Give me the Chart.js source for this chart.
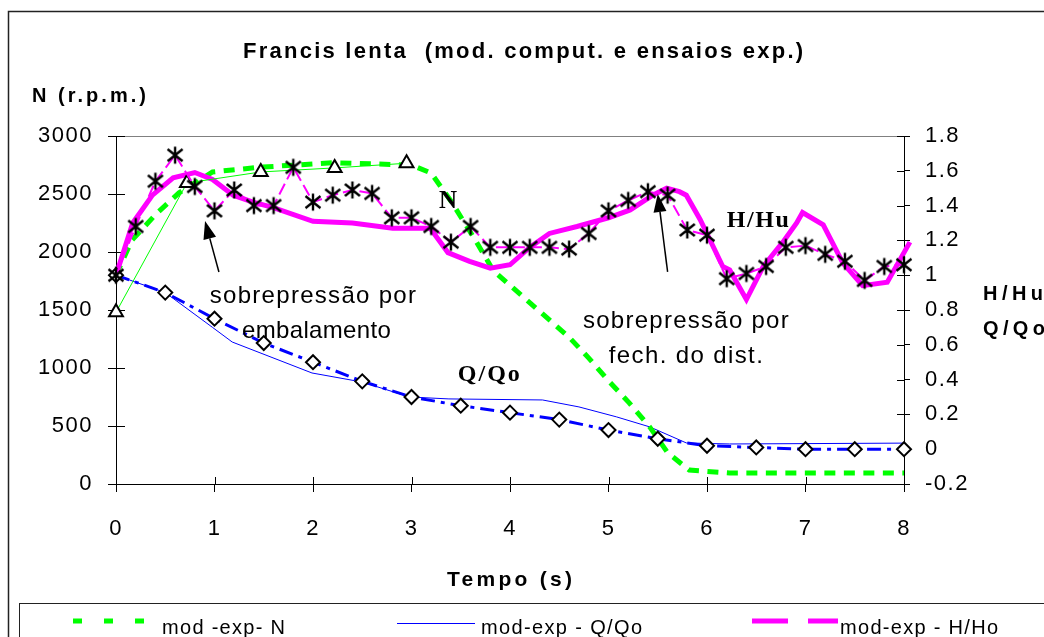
<!DOCTYPE html>
<html><head><meta charset="utf-8">
<script src="https://cdn.jsdelivr.net/npm/chart.js@4"></script>
<style>html,body{margin:0;padding:0;background:#fff;}canvas{display:block;}</style>
</head><body>
<canvas id="c" width="1044" height="637"></canvas>
<script>
// ---------- data ----------
const nModelTime = [0, 0.16, 0.41, 0.64, 0.98, 1.45, 2.2, 3.0, 3.2, 3.4, 3.65, 3.83, 4.6, 4.8, 5.01, 5.21, 5.42, 5.6, 5.82, 6.23, 8.0];
const nModelRpm  = [1800, 2100, 2330, 2510, 2690, 2730, 2770, 2750, 2680, 2440, 2100, 1840, 1265, 1085, 880, 700, 490, 270, 120, 95, 95];

const nExpTime = [0, 0.72, 1.47, 2.22, 2.95];
const nExpRpm  = [1480, 2595, 2690, 2725, 2765];

const qModelTime = [0, 0.5, 0.98, 1.18, 1.99, 2.5, 2.98, 3.38, 4.33, 4.7, 5.08, 5.42, 5.79, 6.23, 8.0];
const qModelVal  = [1.0, 0.90, 0.70, 0.616, 0.438, 0.386, 0.30, 0.289, 0.283, 0.243, 0.186, 0.128, 0.036, 0.03, 0.035];

const qExpTime = [0, 0.5, 1, 1.5, 2, 2.5, 3, 3.5, 4, 4.5, 5, 5.5, 6, 6.5, 7, 7.5, 8];
const qExpVal  = [1.0, 0.90, 0.75, 0.61, 0.50, 0.39, 0.30, 0.25, 0.21, 0.17, 0.11, 0.06, 0.02, 0.01, 0.0, 0.0, 0.0];

const hModelTime = [0, 0.17, 0.37, 0.58, 0.80, 0.98, 1.19, 1.39, 1.59, 2.0, 2.4, 2.81, 3.19, 3.37, 3.59, 3.8, 4.0, 4.2, 4.4, 4.68, 5.0, 5.22, 5.45, 5.59, 5.72, 5.79, 5.93, 6.16, 6.23, 6.4, 6.57, 6.77, 6.91, 6.97, 7.18, 7.38, 7.58, 7.83, 8.06];
const hModelVal  = [1.0, 1.30, 1.46, 1.56, 1.59, 1.55, 1.46, 1.42, 1.39, 1.31, 1.30, 1.27, 1.27, 1.13, 1.08, 1.04, 1.06, 1.16, 1.24, 1.28, 1.33, 1.375, 1.46, 1.50, 1.48, 1.46, 1.32, 1.05, 1.03, 0.86, 1.05, 1.19, 1.30, 1.36, 1.29, 1.07, 0.94, 0.96, 1.19];

const hExpTime = [0, 0.2, 0.4, 0.6, 0.8, 1.0, 1.2, 1.4, 1.6, 1.8, 2.0, 2.2, 2.4, 2.6, 2.8, 3.0, 3.2, 3.4, 3.6, 3.8, 4.0, 4.2, 4.4, 4.6, 4.8, 5.0, 5.2, 5.4, 5.6, 5.8, 6.0, 6.2, 6.4, 6.6, 6.8, 7.0, 7.2, 7.4, 7.6, 7.8, 8.0];
const hExpVal  = [1.00, 1.28, 1.54, 1.69, 1.51, 1.37, 1.49, 1.40, 1.40, 1.62, 1.42, 1.46, 1.49, 1.47, 1.33, 1.33, 1.28, 1.19, 1.28, 1.16, 1.16, 1.16, 1.16, 1.15, 1.24, 1.37, 1.43, 1.48, 1.46, 1.26, 1.23, 0.98, 1.01, 1.05, 1.16, 1.17, 1.12, 1.08, 0.97, 1.05, 1.06];

const timeTicks  = ['0', '1', '2', '3', '4', '5', '6', '7', '8'];
const rpmTicks   = ['0', '500', '1000', '1500', '2000', '2500', '3000'];
const ratioTicks = ['-0.2', '0', '0.2', '0.4', '0.6', '0.8', '1', '1.2', '1.4', '1.6', '1.8'];

const legendLabels = ['mod -exp- N', 'mod-exp - Q/Qo', 'mod-exp - H/Ho'];

// ---------- helpers ----------
const SANS = '"Liberation Sans", Arial, sans-serif';
const SERIF = '"Liberation Serif", "Times New Roman", serif';
const toXY = (xs, ys) => xs.map((x, i) => ({x: x, y: ys[i]}));

function makeStar() {
  const c = document.createElement('canvas');
  c.width = 20; c.height = 20;
  const g = c.getContext('2d');
  g.strokeStyle = '#000'; g.lineWidth = 2.4;
  g.beginPath();
  g.moveTo(10, 1.5); g.lineTo(10, 18.5);
  g.moveTo(2.5, 4); g.lineTo(17.5, 16);
  g.moveTo(17.5, 4); g.lineTo(2.5, 16);
  g.stroke();
  return c;
}
const starImg = makeStar();

function fitText(ctx, txt, font, x0, x1, yb) {
  ctx.save();
  ctx.font = font;
  ctx.letterSpacing = '0px';
  const w = ctx.measureText(txt).width;
  const n = Array.from(txt).length;
  const ls = n > 1 ? (x1 - x0 - w) / (n - 1) : 0;
  ctx.letterSpacing = ls.toFixed(2) + 'px';
  ctx.fillStyle = '#000';
  ctx.textAlign = 'left';
  ctx.textBaseline = 'alphabetic';
  ctx.fillText(txt, x0, yb);
  ctx.restore();
}

function arrow(ctx, x0, y0, x1, y1) {
  const a = Math.atan2(y1 - y0, x1 - x0), L = 18, W = 6.5;
  const bx = x1 - L * Math.cos(a), by = y1 - L * Math.sin(a);
  ctx.beginPath(); ctx.moveTo(x0, y0); ctx.lineTo(bx, by);
  ctx.lineWidth = 1.5; ctx.strokeStyle = '#000'; ctx.stroke();
  ctx.beginPath(); ctx.moveTo(x1, y1);
  ctx.lineTo(bx - W * Math.sin(a), by + W * Math.cos(a));
  ctx.lineTo(bx + W * Math.sin(a), by - W * Math.cos(a));
  ctx.closePath(); ctx.fillStyle = '#000'; ctx.fill();
}

// annotations in data units (x: seconds, n: rpm axis)
const notes = [
  {text: 'sobrepressão por', t0: 0.952, t1: 3.044, n: 1560, font: '24px ' + SANS},
  {text: 'embalamento',      t0: 1.279, t1: 2.79,  n: 1259, font: '24px ' + SANS},
  {text: 'sobrepressão por', t0: 4.74,  t1: 6.83,  n: 1345, font: '24px ' + SANS},
  {text: 'fech. do dist.',   t0: 5.003, t1: 6.567, n: 1043, font: '24px ' + SANS},
  {text: 'N',    t0: 3.28, t1: 3.46, n: 2379, font: 'bold 25px ' + SERIF},
  {text: 'H/Hu', t0: 6.20, t1: 6.83, n: 2216, font: 'bold 24px ' + SERIF},
  {text: 'Q/Qo', t0: 3.47, t1: 4.10, n: 890,  font: 'bold 24px ' + SERIF}
];
const arrows = [
  {t0: 1.045, n0: 1828, t1: 0.904, n1: 2267},
  {t0: 5.60,  n0: 1828, t1: 5.50,  n1: 2500}
];

const decor = {
  id: 'decor',
  beforeDraw(chart) {
    chart.ctx.letterSpacing = '1.5px';
  },
  beforeDatasetsDraw(chart) {
    const {ctx, chartArea: a, scales} = chart;
    ctx.save();
    ctx.letterSpacing = '0px';
    ctx.lineWidth = 1;
    ctx.strokeStyle = '#808080';
    ctx.beginPath(); ctx.moveTo(a.left, a.top + 0.5); ctx.lineTo(a.right, a.top + 0.5); ctx.stroke();
    ctx.strokeStyle = '#000';
    ctx.beginPath();
    scales.y.ticks.forEach((t, i) => {
      const p = Math.round(scales.y.getPixelForTick(i)) + 0.5;
      ctx.moveTo(a.left, p); ctx.lineTo(a.left + 9, p);
    });
    scales.y1.ticks.forEach((t, i) => {
      const p = Math.round(scales.y1.getPixelForTick(i)) + 0.5;
      ctx.moveTo(a.right, p); ctx.lineTo(a.right - 7, p);
    });
    scales.x.ticks.forEach((t, i) => {
      const p = Math.round(scales.x.getPixelForTick(i)) + 0.5;
      ctx.moveTo(p, a.bottom); ctx.lineTo(p, a.bottom - 7);
    });
    ctx.stroke();
    ctx.restore();
  },
  afterDatasetsDraw(chart) {
    const {ctx, scales} = chart;
    const X = scales.x, Y = scales.y;
    ctx.save();
    notes.forEach(o => fitText(ctx, o.text, o.font, X.getPixelForValue(o.t0), X.getPixelForValue(o.t1), Y.getPixelForValue(o.n)));
    arrows.forEach(o => arrow(ctx, X.getPixelForValue(o.t0), Y.getPixelForValue(o.n0), X.getPixelForValue(o.t1), Y.getPixelForValue(o.n1)));
    ctx.restore();
  },
  afterDraw(chart) {
    const ctx = chart.ctx;
    ctx.save();
    ctx.letterSpacing = '0px';
    // outer chart frame
    ctx.strokeStyle = '#222'; ctx.lineWidth = 1.5;
    ctx.strokeRect(8.5, 11.5, 1100, 700);
    // titles
    fitText(ctx, 'Francis lenta  (mod. comput. e ensaios exp.)', 'bold 22px ' + SANS, 243, 803, 58);
    fitText(ctx, 'N (r.p.m.)', 'bold 20px ' + SANS, 32, 146, 102);
    fitText(ctx, 'Tempo (s)', 'bold 21px ' + SANS, 447, 572, 586);
    fitText(ctx, 'H/Hu', 'bold 20px ' + SANS, 983, 1043, 300);
    fitText(ctx, 'Q/Qo', 'bold 20px ' + SANS, 983, 1045, 335);
    // legend box
    ctx.strokeStyle = '#222'; ctx.lineWidth = 1;
    ctx.strokeRect(19.5, 603.5, 1100, 100);
    const ds = chart.data.datasets;
    const items = [
      {ds: ds[4], x0: 73, x1: 145, y: 621, w: 5, dash: [9, 22], tx0: 162, tx1: 285},
      {ds: ds[5], x0: 397, x1: 475, y: 623.5, w: 1, dash: [], tx0: 481, tx1: 642},
      {ds: ds[3], x0: 752, x1: 838, y: 621, w: 5, dash: [36, 20], tx0: 840, tx1: 998}
    ];
    items.forEach((it, i) => {
      ctx.save();
      ctx.strokeStyle = it.ds.borderColor; ctx.lineWidth = it.w; ctx.setLineDash(it.dash);
      ctx.beginPath(); ctx.moveTo(it.x0, it.y); ctx.lineTo(it.x1, it.y); ctx.stroke();
      ctx.restore();
      fitText(ctx, legendLabels[i], '20px ' + SANS, it.tx0, it.tx1, 634);
    });
    ctx.restore();
  }
};

const tickFont = {family: SANS, size: 22};

new Chart(document.getElementById('c'), {
  type: 'line',
  data: {
    datasets: [
      {label: 'exp - H/Ho', data: toXY(hExpTime, hExpVal), yAxisID: 'y1',
       borderColor: '#ff00ff', borderWidth: 2, borderDash: [12, 5],
       pointStyle: starImg, pointRadius: 9, pointHoverRadius: 9, clip: false, order: 0},
      {label: 'exp - Q/Qo', data: toXY(qExpTime, qExpVal), yAxisID: 'y1',
       borderColor: '#0000ff', borderWidth: 3, borderDash: [14, 6, 4, 6],
       pointStyle: 'rectRot', pointRadius: 7, pointHoverRadius: 7, pointBorderColor: '#000',
       pointBackgroundColor: '#fff', pointBorderWidth: 2, clip: false, order: 1},
      {label: 'exp - N', data: toXY(nExpTime, nExpRpm), yAxisID: 'y',
       borderColor: '#00ff00', borderWidth: 1,
       pointStyle: 'triangle', pointRadius: 8, pointHoverRadius: 8, pointBorderColor: '#000',
       pointBackgroundColor: '#fff', pointBorderWidth: 2, clip: false, order: 2},
      {label: legendLabels[2], data: toXY(hModelTime, hModelVal), yAxisID: 'y1',
       borderColor: '#ff00ff', borderWidth: 5, pointRadius: 0, clip: false, order: 3},
      {label: legendLabels[0], data: toXY(nModelTime, nModelRpm), yAxisID: 'y',
       borderColor: '#00ff00', borderWidth: 5, borderDash: [11, 8.5], pointRadius: 0, order: 4},
      {label: legendLabels[1], data: toXY(qModelTime, qModelVal), yAxisID: 'y1',
       borderColor: '#0000ff', borderWidth: 1, pointRadius: 0, order: 5}
    ]
  },
  options: {
    responsive: false,
    animation: false,
    events: [],
    layout: {padding: {top: 136, left: 0, right: 0, bottom: 0}},
    plugins: {legend: {display: false}, tooltip: {enabled: false}, title: {display: false}},
    scales: {
      x: {
        type: 'linear', min: 0, max: 8,
        afterFit: s => { s.height = 153; },
        grid: {display: true, drawOnChartArea: false, drawTicks: true, tickLength: 8, color: '#000'},
        border: {display: true, color: '#000', width: 1},
        ticks: {stepSize: 1, autoSkip: false, maxRotation: 0, padding: 24, color: '#000', font: tickFont,
                callback: (v, i) => timeTicks[i]}
      },
      y: {
        type: 'linear', position: 'left', min: 0, max: 3000,
        afterFit: s => { s.width = 116; },
        grid: {display: true, drawOnChartArea: false, drawTicks: true, tickLength: 8, color: '#000'},
        border: {display: true, color: '#000', width: 1},
        ticks: {stepSize: 500, padding: 15, color: '#000', font: tickFont,
                callback: (v, i) => rpmTicks[i]}
      },
      y1: {
        type: 'linear', position: 'right', min: -0.2, max: 1.8,
        afterFit: s => { s.width = 140; },
        grid: {display: true, drawOnChartArea: false, drawTicks: true, tickLength: 6, color: '#000'},
        border: {display: true, color: '#000', width: 1},
        ticks: {stepSize: 0.2, padding: 15, color: '#000', font: tickFont,
                callback: (v, i) => ratioTicks[i]}
      }
    }
  },
  plugins: [decor]
});
</script>
</body></html>
